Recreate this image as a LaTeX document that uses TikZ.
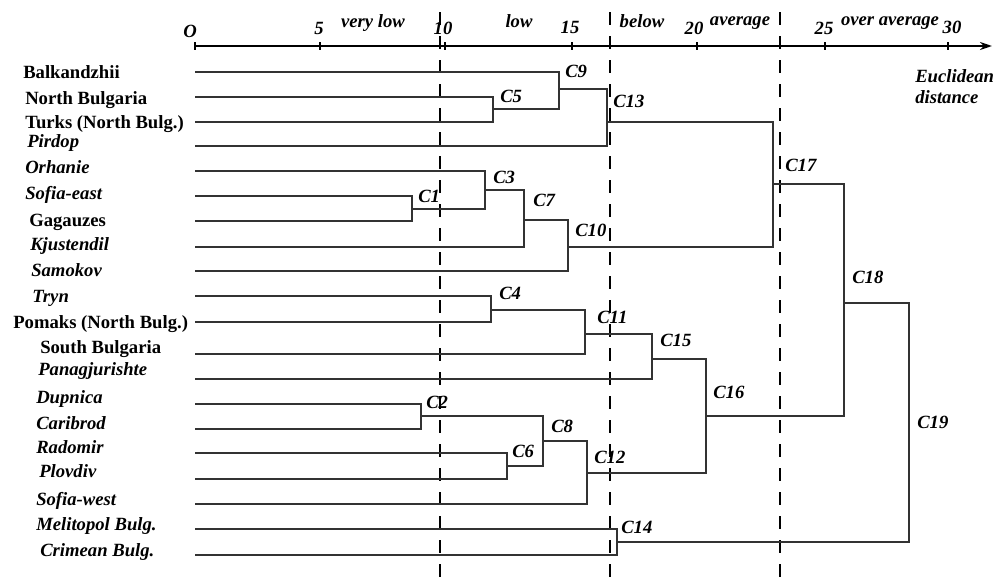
\documentclass[tikz,border=0pt]{standalone}
\usepackage{fontspec}
\setmainfont{Liberation Serif}
\usetikzlibrary{arrows.meta}
\begin{document}
\begin{tikzpicture}[x=0.75pt,y=-0.75pt,
  tree/.style={draw=black!80,line width=0.8pt},
  guide/.style={draw=black,line width=0.8pt,dash pattern=on 10pt off 8pt},
  axisline/.style={draw=black,line width=1.8pt},
  leafb/.style={anchor=base west,inner sep=0pt,font=\fontsize{14}{16}\selectfont\bfseries},
  leafi/.style={anchor=base west,inner sep=0pt,font=\fontsize{14}{16}\selectfont\bfseries\itshape},
  clab/.style={anchor=base west,inner sep=0pt,font=\fontsize{14}{16}\selectfont\bfseries\itshape},
  alab/.style={anchor=base,inner sep=0pt,font=\fontsize{14}{16}\selectfont\bfseries\itshape}]
\useasboundingbox (0,0) rectangle (1004,578);
% guide lines
\coordinate (g1t) at (440,12); \coordinate (g1b) at (440,578);
\coordinate (g2t) at (610,12); \coordinate (g2b) at (610,578);
\coordinate (g3t) at (780,12); \coordinate (g3b) at (780,578);
\draw[guide] (g1t) -- (g1b);
\draw[guide] (g2t) -- (g2b);
\draw[guide] (g3t) -- (g3b);
% axis
\coordinate (ax0) at (195,46); \coordinate (ax1) at (992,46);
\draw[axisline,-{Stealth[length=9pt,width=6pt]}] (ax0) -- (ax1);
\foreach \t in {195,320,445,572,697,825,948}{\draw[line width=0.9pt] (\t,42) -- (\t,50);}
\node[alab] (a0) at (190,37) {O};
\node[alab] (a5) at (319,35) {5};
\node[alab] (a10) at (443,35) {10};
\node[alab] (a15) at (570,33) {15};
\node[alab] (a20) at (694,35) {20};
\node[alab] (a25) at (824,35) {25};
\node[alab] (a30) at (952,33) {30};
\node[alab] (vl) at (373,27) {very low};
\node[alab] (lo) at (519,27) {low};
\node[alab] (be) at (642,27) {below};
\node[alab] (av) at (740,26) {average};
\node[alab] (oa) at (890,26) {over average};
\node[clab] (eu) at (915,82) {Euclidean};
\node[clab] (di) at (915,103) {distance};
% leaf labels
\node[leafb] (tBal) at (23,78) {Balkandzhii};
\node[leafb] (tNB) at (25,104) {North Bulgaria};
\node[leafb] (tTur) at (25,128) {Turks (North Bulg.)};
\node[leafi] (tPir) at (27,147) {Pirdop};
\node[leafi] (tOrh) at (25,173) {Orhanie};
\node[leafi] (tSfE) at (25,199) {Sofia-east};
\node[leafb] (tGag) at (29,226) {Gagauzes};
\node[leafi] (tKju) at (30,250) {Kjustendil};
\node[leafi] (tSam) at (31,276) {Samokov};
\node[leafi] (tTry) at (32,302) {Tryn};
\node[leafb] (tPom) at (13,328) {Pomaks (North Bulg.)};
\node[leafb] (tSB) at (40,353) {South Bulgaria};
\node[leafi] (tPan) at (38,375) {Panagjurishte};
\node[leafi] (tDup) at (36,403) {Dupnica};
\node[leafi] (tCar) at (36,429) {Caribrod};
\node[leafi] (tRad) at (36,453) {Radomir};
\node[leafi] (tPlo) at (39,477) {Plovdiv};
\node[leafi] (tSfW) at (36,505) {Sofia-west};
\node[leafi] (tMel) at (36,530) {Melitopol Bulg.};
\node[leafi] (tCri) at (40,556) {Crimean Bulg.};
% leaf start points
\coordinate (Bal) at (195,72);
\coordinate (NB) at (195,97);
\coordinate (Tur) at (195,122);
\coordinate (Pir) at (195,146);
\coordinate (Orh) at (195,171);
\coordinate (SfE) at (195,196);
\coordinate (Gag) at (195,221);
\coordinate (Kju) at (195,247);
\coordinate (Sam) at (195,271);
\coordinate (Try) at (195,296);
\coordinate (Pom) at (195,322);
\coordinate (SB) at (195,354);
\coordinate (Pan) at (195,379);
\coordinate (Dup) at (195,404);
\coordinate (Car) at (195,429);
\coordinate (Rad) at (195,453);
\coordinate (Plo) at (195,479);
\coordinate (SfW) at (195,504);
\coordinate (Mel) at (195,529);
\coordinate (Cri) at (195,555);
% join points
\coordinate (C1) at (412,209);
\coordinate (C3) at (485,190);
\coordinate (C7) at (524,220);
\coordinate (C10) at (568,247);
\coordinate (C5) at (493,109);
\coordinate (C9) at (559,89);
\coordinate (C13) at (607,122);
\coordinate (C17) at (773,184);
\coordinate (C4) at (491,310);
\coordinate (C11) at (585,334);
\coordinate (C15) at (652,359);
\coordinate (C2) at (421,416);
\coordinate (C6) at (507,466);
\coordinate (C8) at (543,441);
\coordinate (C12) at (587,473);
\coordinate (C16) at (706,416);
\coordinate (C18) at (844,303);
\coordinate (C14) at (617,542);
\coordinate (C19) at (909,420);
% brackets
\newcommand{\joinpair}[3]{\draw[tree] (#2) -- (#2 -| #1) -- (#3 -| #1) -- (#3);}
\joinpair{C1}{SfE}{Gag}
\joinpair{C3}{Orh}{C1}
\joinpair{C7}{C3}{Kju}
\joinpair{C10}{C7}{Sam}
\joinpair{C5}{NB}{Tur}
\joinpair{C9}{Bal}{C5}
\joinpair{C13}{C9}{Pir}
\joinpair{C17}{C13}{C10}
\joinpair{C4}{Try}{Pom}
\joinpair{C11}{C4}{SB}
\joinpair{C15}{C11}{Pan}
\joinpair{C2}{Dup}{Car}
\joinpair{C6}{Rad}{Plo}
\joinpair{C8}{C2}{C6}
\joinpair{C12}{C8}{SfW}
\joinpair{C16}{C15}{C12}
\joinpair{C18}{C17}{C16}
\joinpair{C14}{Mel}{Cri}
\joinpair{C19}{C18}{C14}
% cluster labels
\node[clab] (lC9) at (565,77) {C9};
\node[clab] (lC5) at (500,102) {C5};
\node[clab] (lC13) at (613,107) {C13};
\node[clab] (lC3) at (493,183) {C3};
\node[clab] (lC1) at (418,202) {C1};
\node[clab] (lC7) at (533,206) {C7};
\node[clab] (lC10) at (575,236) {C10};
\node[clab] (lC17) at (785,171) {C17};
\node[clab] (lC18) at (852,283) {C18};
\node[clab] (lC19) at (917,428) {C19};
\node[clab] (lC15) at (660,346) {C15};
\node[clab] (lC16) at (713,398) {C16};
\node[clab] (lC4) at (499,299) {C4};
\node[clab] (lC11) at (597,323) {C11};
\node[clab] (lC2) at (426,408) {C2};
\node[clab] (lC8) at (551,432) {C8};
\node[clab] (lC6) at (512,457) {C6};
\node[clab] (lC12) at (594,463) {C12};
\node[clab] (lC14) at (621,533) {C14};
\end{tikzpicture}
\end{document}
